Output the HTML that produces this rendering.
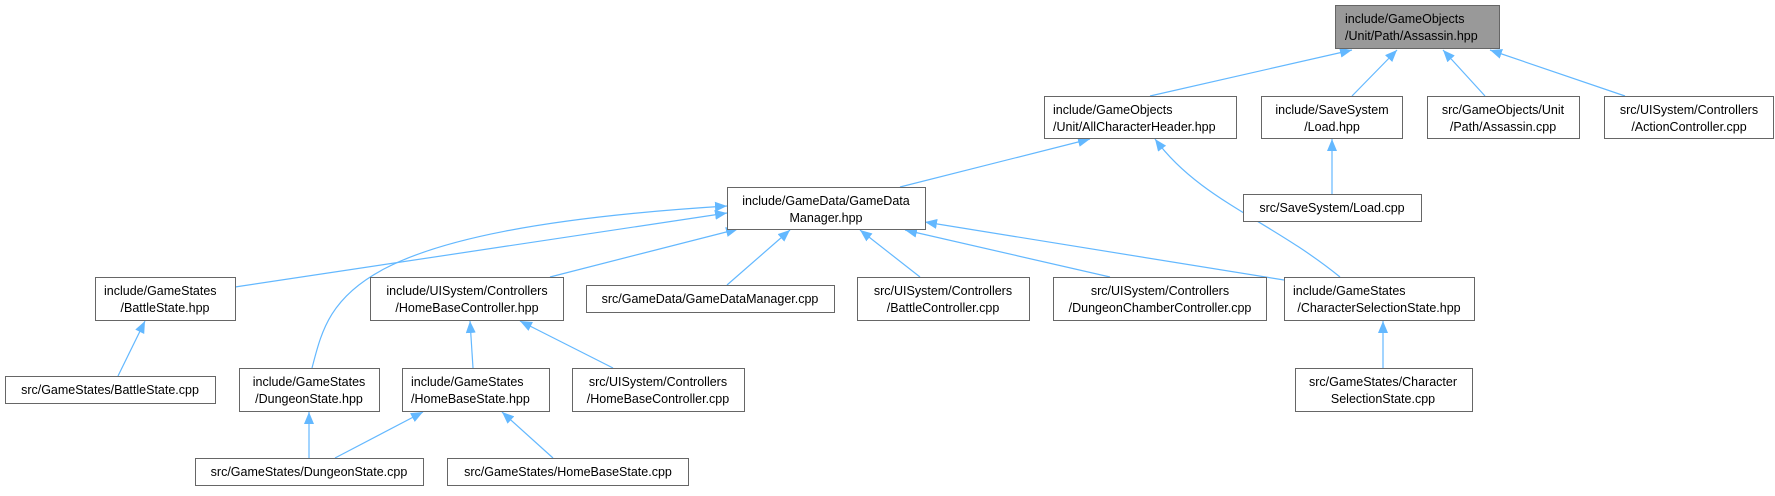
<!DOCTYPE html>
<html><head><meta charset="utf-8"><style>
body{margin:0;background:#fff;width:1775px;height:491px;overflow:hidden}
svg text{font-family:"Liberation Sans",Arial,sans-serif;font-size:12.5px;fill:#000}
</style></head><body>
<svg width="1775" height="491" xmlns="http://www.w3.org/2000/svg">
<defs><marker id="a" viewBox="0 0 12 10" refX="12" refY="5" markerWidth="12" markerHeight="10" markerUnits="userSpaceOnUse" orient="auto"><path d="M0,0 L12,5 L0,10 z" fill="#63b8ff"/></marker></defs>
<g stroke="#63b8ff" stroke-width="1.2" fill="none" marker-end="url(#a)">
<line x1="1150" y1="96" x2="1352" y2="50"/>
<line x1="1352" y1="96" x2="1397" y2="50"/>
<line x1="1485" y1="96" x2="1443" y2="50"/>
<line x1="1625" y1="96" x2="1490" y2="50"/>
<line x1="900" y1="187" x2="1090" y2="139"/>
<path d="M1340,277 C1270,220 1200,200 1155,139"/>
<line x1="1332" y1="194" x2="1332" y2="139"/>
<line x1="235" y1="287" x2="727" y2="213"/>
<path d="M312,368 C330,300 340,230 727,206"/>
<line x1="550" y1="277" x2="738" y2="229"/>
<line x1="727" y1="285" x2="790" y2="230"/>
<line x1="920" y1="277" x2="860" y2="230"/>
<line x1="1110" y1="277" x2="905" y2="230"/>
<line x1="1284" y1="280" x2="925" y2="222"/>
<line x1="118" y1="376" x2="145" y2="321"/>
<line x1="473" y1="368" x2="470" y2="321"/>
<line x1="613" y1="368" x2="520" y2="321"/>
<line x1="309" y1="458" x2="309" y2="412"/>
<line x1="335" y1="458" x2="423" y2="412"/>
<line x1="553" y1="458" x2="502" y2="412"/>
<line x1="1383" y1="368" x2="1383" y2="321"/>
</g>
<g stroke="#666" stroke-width="1" fill="#fff">
<rect x="1335.5" y="5.5" width="164" height="43" fill="#999"/>
<rect x="1044.5" y="96.5" width="192" height="42"/>
<rect x="1261.5" y="96.5" width="141" height="42"/>
<rect x="1427.5" y="96.5" width="152" height="42"/>
<rect x="1604.5" y="96.5" width="169" height="42"/>
<rect x="1243.5" y="194.5" width="178" height="27"/>
<rect x="727.5" y="187.5" width="198" height="42"/>
<rect x="95.5" y="277.5" width="140" height="43"/>
<rect x="370.5" y="277.5" width="193" height="43"/>
<rect x="586.5" y="285.5" width="248" height="27"/>
<rect x="857.5" y="277.5" width="172" height="43"/>
<rect x="1053.5" y="277.5" width="213" height="43"/>
<rect x="1284.5" y="277.5" width="190" height="43"/>
<rect x="5.5" y="376.5" width="210" height="27"/>
<rect x="239.5" y="368.5" width="140" height="43"/>
<rect x="402.5" y="368.5" width="147" height="43"/>
<rect x="572.5" y="368.5" width="172" height="43"/>
<rect x="1295.5" y="368.5" width="177" height="43"/>
<rect x="195.5" y="458.5" width="228" height="27"/>
<rect x="447.5" y="458.5" width="241" height="27"/>
</g>
<g>
<text x="1345" y="23">include/GameObjects</text><text x="1345" y="40">/Unit/Path/Assassin.hpp</text>
<text x="1053" y="114">include/GameObjects</text><text x="1053" y="131">/Unit/AllCharacterHeader.hpp</text>
<text x="1332" y="114" text-anchor="middle">include/SaveSystem</text><text x="1332" y="131" text-anchor="middle">/Load.hpp</text>
<text x="1503" y="114" text-anchor="middle">src/GameObjects/Unit</text><text x="1503" y="131" text-anchor="middle">/Path/Assassin.cpp</text>
<text x="1689" y="114" text-anchor="middle">src/UISystem/Controllers</text><text x="1689" y="131" text-anchor="middle">/ActionController.cpp</text>
<text x="1332" y="212" text-anchor="middle">src/SaveSystem/Load.cpp</text>
<text x="826" y="205" text-anchor="middle">include/GameData/GameData</text><text x="826" y="222" text-anchor="middle">Manager.hpp</text>
<text x="104" y="295">include/GameStates</text><text x="165" y="312" text-anchor="middle">/BattleState.hpp</text>
<text x="467" y="295" text-anchor="middle">include/UISystem/Controllers</text><text x="467" y="312" text-anchor="middle">/HomeBaseController.hpp</text>
<text x="710" y="303" text-anchor="middle">src/GameData/GameDataManager.cpp</text>
<text x="943" y="295" text-anchor="middle">src/UISystem/Controllers</text><text x="943" y="312" text-anchor="middle">/BattleController.cpp</text>
<text x="1160" y="295" text-anchor="middle">src/UISystem/Controllers</text><text x="1160" y="312" text-anchor="middle">/DungeonChamberController.cpp</text>
<text x="1293" y="295">include/GameStates</text><text x="1379" y="312" text-anchor="middle">/CharacterSelectionState.hpp</text>
<text x="110" y="394" text-anchor="middle">src/GameStates/BattleState.cpp</text>
<text x="309" y="386" text-anchor="middle">include/GameStates</text><text x="309" y="403" text-anchor="middle">/DungeonState.hpp</text>
<text x="411" y="386">include/GameStates</text><text x="411" y="403">/HomeBaseState.hpp</text>
<text x="658" y="386" text-anchor="middle">src/UISystem/Controllers</text><text x="658" y="403" text-anchor="middle">/HomeBaseController.cpp</text>
<text x="1383" y="386" text-anchor="middle">src/GameStates/Character</text><text x="1383" y="403" text-anchor="middle">SelectionState.cpp</text>
<text x="309" y="476" text-anchor="middle">src/GameStates/DungeonState.cpp</text>
<text x="568" y="476" text-anchor="middle">src/GameStates/HomeBaseState.cpp</text>
</g>
</svg>
</body></html>
